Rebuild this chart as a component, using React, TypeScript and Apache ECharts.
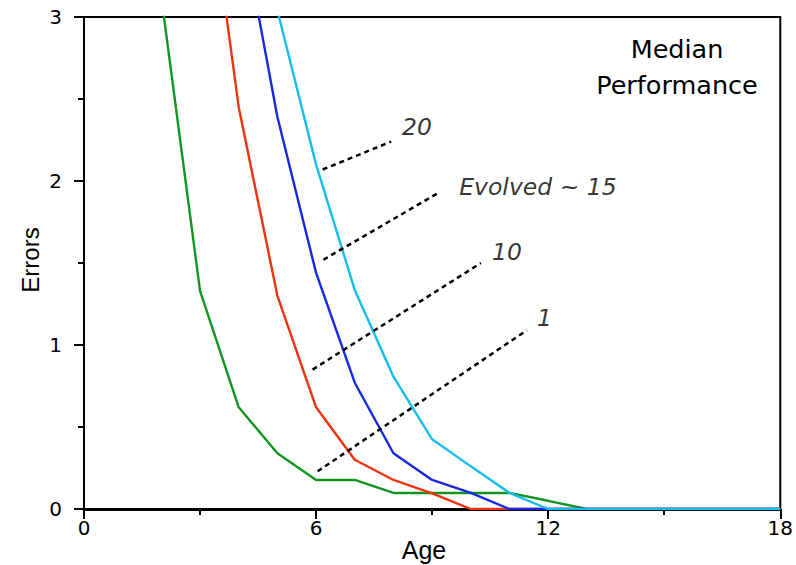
import React, { useEffect, useRef } from "react";
import * as echarts from "echarts";

// Ages (x) and median errors (y) for each curve
const greenAges = [2, 3, 4, 5, 6, 7, 8, 9, 10, 11, 12, 13, 14, 15, 16, 17, 18];
const greenValues = [3.12, 1.33, 0.62, 0.34, 0.177, 0.177, 0.098, 0.098, 0.098, 0.098, 0.05, 0, 0, 0, 0, 0, 0];

const redAges = [3, 4, 5, 6, 7, 8, 9, 10, 11, 12, 13, 14, 15, 16, 17, 18];
const redValues = [4.2, 2.45, 1.3, 0.62, 0.3, 0.177, 0.095, 0, 0, 0, 0, 0, 0, 0, 0, 0];

const blueAges = [4, 5, 6, 7, 8, 9, 10, 11, 12, 13, 14, 15, 16, 17, 18];
const blueValues = [3.66, 2.39, 1.44, 0.77, 0.34, 0.177, 0.098, 0, 0, 0, 0, 0, 0, 0, 0];

const cyanAges = [5, 6, 7, 8, 9, 10, 11, 12, 13, 14, 15, 16, 17, 18];
const cyanValues = [3.04, 2.1, 1.335, 0.807, 0.425, 0.26, 0.098, 0, 0, 0, 0, 0, 0, 0];

// Annotation leader lines (data coordinates) and their labels
const annotationTexts = ["20", "Evolved ~ 15", "10", "1"];
const annotationStart = [[6.17, 2.07], [6.19, 1.52], [5.91, 0.85], [6.04, 0.23]];
const annotationEnd = [[7.94, 2.24], [9.18, 1.93], [10.26, 1.5], [11.45, 1.09]];
const annotationLabelAt = [[8.22, 2.33], [9.7, 1.965], [10.55, 1.57], [11.71, 1.165]];

const xTicks = { min: 0, max: 18, interval: 6 };
const yTicks = { min: 0, max: 3, interval: 1 };

const colors = {
  green: "rgb(16,150,30)",
  red: "rgb(240,50,16)",
  blue: "rgb(22,40,226)",
  cyan: "rgb(22,190,240)",
};

const pair = (xs: number[], ys: number[]) => xs.map((x, i) => [x, ys[i]]);

export default function App() {
  const ref = useRef<HTMLDivElement>(null);

  useEffect(() => {
    if (!ref.current) return;
    const chart = echarts.init(ref.current, undefined, { renderer: "svg" });

    const curve = (name: string, data: number[][], color: string) => ({
      name,
      type: "line",
      data,
      showSymbol: false,
      symbol: "none",
      clip: true,
      lineStyle: { color, width: 2.4 },
      z: 3,
    });

    const leaderSeries = annotationTexts.map((t, i) => ({
      name: "leader " + t,
      type: "line",
      data: [annotationStart[i], annotationEnd[i]],
      symbol: "none",
      lineStyle: { color: "#000", width: 2.5, type: [5, 4] },
      z: 4,
    }));

    const labelSeries = {
      name: "labels",
      type: "scatter",
      symbolSize: 0,
      data: annotationTexts.map((t, i) => [annotationLabelAt[i][0], annotationLabelAt[i][1], t]),
      label: {
        show: true,
        position: "right",
        distance: 0,
        align: "left",
        verticalAlign: "middle",
        formatter: (p: any) => p.data[2],
        fontFamily: "DejaVu Sans",
        fontStyle: "italic",
        fontSize: 23.5,
        color: "#000",
      },
      z: 5,
    };

    chart.setOption({
      animation: false,
      backgroundColor: "#fff",
      grid: {
        left: 84,
        top: 17,
        right: 14,
        bottom: 56,
        show: true,
        borderColor: "#000",
        borderWidth: 2,
        backgroundColor: "transparent",
      },
      xAxis: {
        type: "value",
        min: xTicks.min,
        max: xTicks.max,
        interval: xTicks.interval,
        axisLine: { show: true, onZero: false, lineStyle: { color: "#000", width: 3 } },
        axisTick: { show: true, inside: false, length: 10, lineStyle: { color: "#000", width: 2 } },
        minorTick: { show: true, splitNumber: 2, length: 6, lineStyle: { color: "#000", width: 2 } },
        splitLine: { show: false },
        axisLabel: { margin: 9, fontFamily: "DejaVu Sans", fontSize: 20, color: "#000" },
      },
      yAxis: {
        type: "value",
        min: yTicks.min,
        max: yTicks.max,
        interval: yTicks.interval,
        axisLine: { show: true, lineStyle: { color: "#000", width: 2 } },
        axisTick: { show: true, inside: false, length: 10, lineStyle: { color: "#000", width: 2 } },
        minorTick: { show: true, splitNumber: 2, length: 6, lineStyle: { color: "#000", width: 2 } },
        splitLine: { show: false },
        axisLabel: { margin: 22, fontFamily: "DejaVu Sans", fontSize: 20, color: "#000" },
      },
      graphic: [
        {
          type: "text",
          x: 677,
          y: 49,
          style: {
            text: "Median",
            fontFamily: "DejaVu Sans",
            fontSize: 25.5,
            fill: "#000",
            textAlign: "center",
            textVerticalAlign: "middle",
          },
        },
        {
          type: "text",
          x: 677,
          y: 85,
          style: {
            text: "Performance",
            fontFamily: "DejaVu Sans",
            fontSize: 25.5,
            fill: "#000",
            textAlign: "center",
            textVerticalAlign: "middle",
          },
        },
        {
          type: "text",
          x: 424,
          y: 550,
          style: {
            text: "Age",
            fontFamily: "Liberation Sans",
            fontSize: 25,
            fill: "#000",
            textAlign: "center",
            textVerticalAlign: "middle",
          },
        },
        {
          type: "text",
          x: 30,
          y: 260,
          rotation: Math.PI / 2,
          style: {
            text: "Errors",
            fontFamily: "Liberation Sans",
            fontSize: 24,
            fill: "#000",
            textAlign: "center",
            textVerticalAlign: "middle",
          },
        },
      ],
      series: [
        curve("green", pair(greenAges, greenValues), colors.green),
        curve("red", pair(redAges, redValues), colors.red),
        curve("blue", pair(blueAges, blueValues), colors.blue),
        curve("cyan", pair(cyanAges, cyanValues), colors.cyan),
        ...leaderSeries,
        labelSeries,
      ],
    });

    return () => chart.dispose();
  }, []);

  return (
    <div
      ref={ref}
      style={{ position: "absolute", left: 0, top: 0, width: 796, height: 565 }}
    />
  );
}
